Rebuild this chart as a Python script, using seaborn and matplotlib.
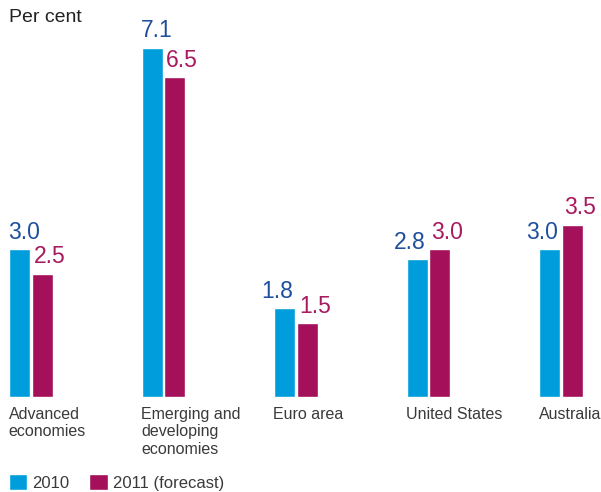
import matplotlib
matplotlib.use("Agg")
import matplotlib.pyplot as plt
import seaborn as sns
import pandas as pd
import numpy as np

categories = ["Advanced\neconomies", "Emerging and\ndeveloping\neconomies", "Euro area", "United States", "Australia"]
values_2010 = [3.0, 7.1, 1.8, 2.8, 3.0]
values_2011 = [2.5, 6.5, 1.5, 3.0, 3.5]
series = ["2010", "2011 (forecast)"]

sns.set_theme(style="white")
plt.rcParams["font.family"] = ["Liberation Sans", "DejaVu Sans"]

blue = "#009DDC"
magenta = "#A4105A"
blue_txt = "#1E4F9C"
mag_txt = "#A8195E"
grey_txt = "#3A3A3A"

df = pd.DataFrame({
    "category": categories * 2,
    "value": values_2010 + values_2011,
    "series": [series[0]] * len(categories) + [series[1]] * len(categories),
})

fig = plt.figure(figsize=(6.01, 4.92), dpi=100)
ax = fig.add_axes([0, 95 / 492, 1, 397 / 492])
sns.barplot(data=df, x="category", y="value", hue="series", palette=[blue, magenta],
            width=0.34, gap=0.05, ax=ax, legend=True, saturation=1)

ax.set_xlim(-31 / 132.5, (601 - 31) / 132.5)
ax.set_ylim(0, 397 / 49.2)
ax.set_xlabel("")
ax.set_ylabel("")
ax.set_xticks([])
ax.set_yticks([])
sns.despine(ax=ax, left=True, bottom=True)

half = 0.17
align_2010 = ["left", "left", "right", "right", "right"]
for i, (v1, v2) in enumerate(zip(values_2010, values_2011)):
    if align_2010[i] == "left":
        ax.annotate(f"{v1:.1f}", (i - half, v1), xytext=(0, 4), textcoords="offset points",
                    ha="left", va="bottom", color=blue_txt, fontsize=16.5)
    else:
        ax.annotate(f"{v1:.1f}", (i, v1), xytext=(-2, 4), textcoords="offset points",
                    ha="right", va="bottom", color=blue_txt, fontsize=16.5)
    ax.annotate(f"{v2:.1f}", (i, v2), xytext=(2, 4), textcoords="offset points",
                ha="left", va="bottom", color=mag_txt, fontsize=16.5)
    ax.annotate(categories[i], (i - half, 0), xytext=(0, -7), textcoords="offset points",
                ha="left", va="top", color=grey_txt, fontsize=11.5, linespacing=1.2)

fig.text(9 / 601, 1 - 9 / 492, "Per cent", ha="left", va="top", color="#222222", fontsize=14)

handles, labels = ax.get_legend_handles_labels()
ax.get_legend().remove()
fig.legend(handles, labels, loc="lower left", bbox_to_anchor=(9 / 601, 1 / 492), ncol=2,
           frameon=False, fontsize=12, handlelength=1.1, handleheight=1.1, borderpad=0,
           borderaxespad=0, handletextpad=0.3, columnspacing=1.2, labelcolor=grey_txt)

fig.savefig("out.png", dpi=100)
